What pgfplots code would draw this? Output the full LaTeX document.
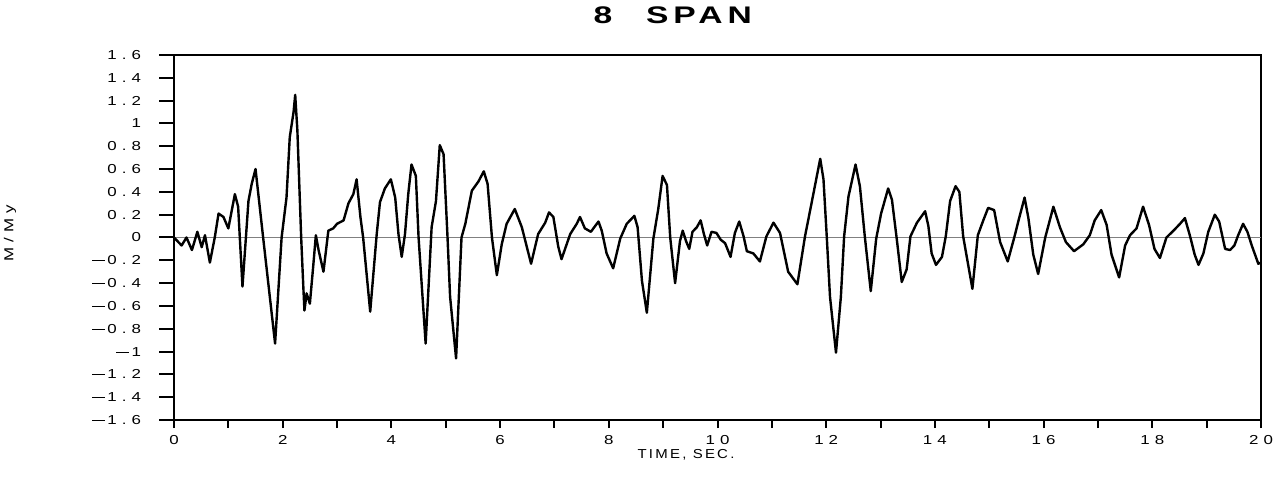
\documentclass[border=0pt]{standalone}
\usepackage{graphicx}
\usepackage{fontspec}
\setmainfont{Liberation Sans}
\usepackage{pgfplots}
\usetikzlibrary{calc}
\pgfplotsset{compat=1.18}
\newcommand{\T}[1]{\scalebox{1.3}[1]{\addfontfeature{LetterSpace=30}#1}}
\newcommand{\m}{\rule[0.28em]{0.75em}{0.06em}\hspace{0.15em}}
\begin{document}
\begin{tikzpicture}
\begin{axis}[
  name=main,
  at={(87pt,28.5pt)}, anchor=south west,
  scale only axis, width=543.5pt, height=182.5pt,
  xmin=0, xmax=20, ymin=-1.6, ymax=1.6,
  axis line style={line width=0.8pt},
  xtick={0,1,...,20},
  xticklabels={\T{0},,\T{2},,\T{4},,\T{6},,\T{8},,\T{10},,\T{12},,\T{14},,\T{16},,\T{18},,\T{20}},
  ytick={-1.6,-1.4,-1.2,-1,-0.8,-0.6,-0.4,-0.2,0,0.2,0.4,0.6,0.8,1,1.2,1.4,1.6},
  yticklabels={\T{\m1.6},\T{\m1.4},\T{\m1.2},\T{\m1},\T{\m0.8},\T{\m0.6},\T{\m0.4},\T{\m0.2},\T{0},\T{0.2},\T{0.4},\T{0.6},\T{0.8},\T{1},\T{1.2},\T{1.4},\T{1.6}},
  xtick pos=bottom, ytick pos=left,
  tick align=outside,
  major tick length=4pt,
  tick style={line width=0.6pt, black},
  ticklabel style={font=\fontsize{6.5}{6.5}\selectfont},
  yticklabel style={anchor=east, xshift=-9pt},
  xticklabel style={anchor=north, yshift=0pt},
]
\addplot[gray, line width=0.6pt] coordinates {(0,0) (20,0)};
\addplot[black, line width=1.2pt, line join=round] coordinates {
(0,0) (0.14,-0.07) (0.23,0) (0.33,-0.11) (0.43,0.05) (0.51,-0.085) (0.57,0.02)
(0.66,-0.22) (0.75,0) (0.82,0.21) (0.91,0.18) (1.0,0.08) (1.12,0.38) (1.18,0.27)
(1.26,-0.43) (1.37,0.32) (1.43,0.47) (1.50,0.60) (1.64,0) (1.86,-0.93) (1.98,0)
(2.07,0.35) (2.13,0.88) (2.20,1.10) (2.23,1.25) (2.27,0.94) (2.34,0) (2.38,-0.44)
(2.40,-0.64) (2.44,-0.49) (2.50,-0.58) (2.56,-0.26) (2.61,0.02) (2.66,-0.11)
(2.75,-0.30) (2.84,0.06) (2.93,0.08) (3.0,0.12) (3.12,0.15) (3.21,0.30) (3.30,0.38)
(3.36,0.51) (3.43,0.18) (3.48,0) (3.61,-0.65) (3.73,0.03) (3.79,0.31) (3.88,0.43)
(3.99,0.51) (4.07,0.35) (4.13,0.03) (4.19,-0.17) (4.25,0.03) (4.31,0.38) (4.37,0.64)
(4.45,0.54) (4.50,0) (4.63,-0.93) (4.74,0.09) (4.82,0.32) (4.89,0.81) (4.96,0.73)
(5.03,0.03) (5.08,-0.52) (5.19,-1.06) (5.29,0) (5.36,0.12) (5.48,0.41) (5.60,0.49)
(5.70,0.58) (5.77,0.47) (5.85,0) (5.94,-0.33) (6.03,-0.06) (6.12,0.12) (6.27,0.25)
(6.40,0.09) (6.57,-0.23) (6.70,0.03) (6.83,0.13) (6.90,0.22) (6.98,0.18) (7.07,-0.08)
(7.13,-0.19) (7.29,0.03) (7.41,0.12) (7.47,0.18) (7.56,0.08) (7.67,0.05) (7.81,0.14)
(7.87,0.06) (7.96,-0.14) (8.08,-0.27) (8.21,-0.01) (8.33,0.12) (8.47,0.19) (8.53,0.09)
(8.61,-0.38) (8.70,-0.66) (8.82,-0.01) (8.91,0.25) (8.99,0.54) (9.07,0.46) (9.13,0)
(9.22,-0.40) (9.31,-0.03) (9.36,0.06) (9.42,-0.03) (9.48,-0.10) (9.54,0.05) (9.62,0.09)
(9.69,0.15) (9.75,0.03) (9.81,-0.07) (9.89,0.05) (9.98,0.04) (10.06,-0.02)
(10.14,-0.05) (10.24,-0.17) (10.32,0.04) (10.40,0.14) (10.48,0.01) (10.54,-0.12)
(10.66,-0.14) (10.78,-0.21) (10.90,0.01) (11.03,0.13) (11.15,0.04) (11.30,-0.30)
(11.47,-0.41) (11.61,0.01) (11.73,0.30) (11.89,0.69) (11.95,0.51) (12.01,0.01)
(12.07,-0.52) (12.18,-1.01) (12.27,-0.52) (12.33,0.01) (12.41,0.36) (12.54,0.64)
(12.62,0.45) (12.71,0.01) (12.82,-0.47) (12.92,-0.01) (13.01,0.21) (13.14,0.43)
(13.21,0.33) (13.30,-0.02) (13.39,-0.39) (13.48,-0.28) (13.55,0.01) (13.67,0.13)
(13.82,0.23) (13.88,0.10) (13.94,-0.14) (14.02,-0.24) (14.13,-0.17) (14.20,0.01)
(14.28,0.32) (14.38,0.45) (14.45,0.40) (14.52,0.01) (14.69,-0.45) (14.79,0.02)
(14.89,0.15) (14.98,0.26) (15.09,0.24) (15.20,-0.04) (15.34,-0.21) (15.46,0)
(15.55,0.17) (15.65,0.35) (15.72,0.17) (15.81,-0.15) (15.90,-0.32) (16.03,0)
(16.18,0.27) (16.30,0.09) (16.41,-0.04) (16.56,-0.12) (16.73,-0.06) (16.85,0.02)
(16.94,0.15) (17.06,0.24) (17.16,0.11) (17.25,-0.15) (17.39,-0.35) (17.50,-0.07)
(17.59,0.02) (17.71,0.08) (17.83,0.27) (17.94,0.11) (18.04,-0.10) (18.14,-0.18)
(18.26,0) (18.39,0.06) (18.51,0.12) (18.60,0.17) (18.69,0.02) (18.78,-0.15)
(18.85,-0.24) (18.94,-0.14) (19.03,0.05) (19.15,0.20) (19.23,0.14) (19.34,-0.10)
(19.43,-0.11) (19.51,-0.07) (19.58,0.02) (19.67,0.12) (19.75,0.05) (19.83,-0.07)
(19.95,-0.23) (20.0,-0.22)
};
\end{axis}
% tick marks drawn outside the axis, along its box
\foreach \k in {0,...,16}{
  \draw[line width=1pt, black] ($(main.south west)!\k/16!(main.north west)$) -- ++(-7.5pt,0);
}
\foreach \k in {0,...,20}{
  \draw[line width=1pt, black] ($(main.south west)!\k/20!(main.south east)$) -- ++(0,-4pt);
}
\node at (301.5pt,231pt) {\fontsize{12}{12}\selectfont\bfseries\scalebox{1.4}[1]{8}};
\node at (349.5pt,231pt) {\fontsize{12}{12}\selectfont\bfseries\scalebox{1.4}[1]{\addfontfeature{LetterSpace=15}SPAN}};
\node at (343pt,11pt) {\fontsize{6.5}{6.5}\selectfont\scalebox{1.15}[1]{\addfontfeature{LetterSpace=15}TIME, SEC.}};
\node[rotate=90] at (5pt,122pt) {\fontsize{6.5}{6.5}\selectfont\T{M/My}};
\pgfresetboundingbox
\useasboundingbox (0,0) rectangle (643pt,238.5pt);
\end{tikzpicture}
\end{document}
